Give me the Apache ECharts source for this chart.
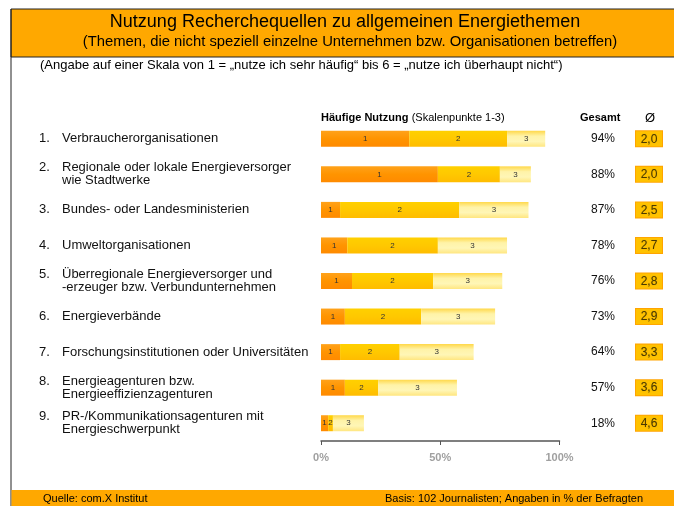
<!DOCTYPE html>
<html>
<head>
<meta charset="utf-8">
<title>Nutzung Recherchequellen</title>
<script src="https://cdn.jsdelivr.net/npm/echarts@6/dist/echarts.min.js"></script>
<style>
  html, body { margin: 0; padding: 0; background: #fff; }
  #chart { width: 674px; height: 506px; }
</style>
</head>
<body>
<div id="chart"></div>
<script>
// Quellen (Reihenfolge von oben nach unten)
const nummern = ['1.', '2.', '3.', '4.', '5.', '6.', '7.', '8.', '9.'];
const quellen = [
  'Verbraucherorganisationen',
  'Regionale oder lokale Energieversorger\nwie Stadtwerke',
  'Bundes- oder Landesministerien',
  'Umweltorganisationen',
  'Überregionale Energieversorger und\n-erzeuger bzw. Verbundunternehmen',
  'Energieverbände',
  'Forschungsinstitutionen oder Universitäten',
  'Energieagenturen bzw.\nEnergieeffizienzagenturen',
  'PR-/Kommunikationsagenturen mit\nEnergieschwerpunkt'
];
// Anteile je Skalenpunkt in %
const punkt1 = [37, 49, 8, 11, 13, 10, 8, 10, 3];
const punkt2 = [41, 26, 50, 38, 34, 32, 25, 14, 2];
const punkt3 = [16, 13, 29, 29, 29, 31, 31, 33, 13];
const gesamt = [94, 88, 87, 78, 76, 73, 64, 57, 18];
const mittelwert = ['2,0', '2,0', '2,5', '2,7', '2,8', '2,9', '3,3', '3,6', '4,6'];
const achsenTicks = [0, 50, 100];

const font = 'Liberation Sans, Arial, sans-serif';
const orange = '#FFA800';

const grad = (stops) => new echarts.graphic.LinearGradient(0, 0, 0, 1,
  stops.map((c, i) => ({ offset: i / (stops.length - 1), color: c })));

const segColors = [
  grad(['#FFA21A', '#FF9400', '#FF8A00']),
  grad(['#FFD000', '#FFC800', '#FFBC00']),
  grad(['#FFD84A', '#FFF3A8', '#FFF6B6', '#FFE680'])
];

const segLabel = {
  show: true,
  position: 'inside',
  fontSize: 8,
  fontFamily: font,
  color: '#333',
  formatter: (p) => p.seriesName
};

const makeSeries = (name, data, color) => ({
  name: name,
  type: 'bar',
  stack: 'nutzung',
  barWidth: 16,
  data: data,
  itemStyle: { color: color },
  label: segLabel,
  silent: true
});

const chart = echarts.init(document.getElementById('chart'));

const option = {
  animation: false,
  textStyle: { fontFamily: font },
  grid: { left: 321, right: 114.5, top: 121, bottom: 65 },
  xAxis: {
    type: 'value',
    min: achsenTicks[0],
    max: achsenTicks[achsenTicks.length - 1],
    interval: achsenTicks[1] - achsenTicks[0],
    splitLine: { show: false },
    axisLine: { show: true, lineStyle: { color: '#555', width: 1.5 } },
    axisTick: { show: true, length: 4, lineStyle: { color: '#555' } },
    axisLabel: {
      formatter: '{value}%',
      color: '#A0A0A0',
      fontWeight: 'bold',
      fontSize: 11,
      margin: 11
    }
  },
  yAxis: [
    {
      type: 'category',
      inverse: true,
      data: quellen,
      axisLine: { show: false },
      axisTick: { show: false },
      axisLabel: {
        align: 'left',
        margin: 282,
        fontSize: 13,
        lineHeight: 13,
        color: '#000',
        formatter: (v, i) => {
          const lines = v.split('\n');
          return lines.map((l, k) =>
            '{n|' + (k === 0 ? nummern[i] : '') + '}{t|' + l + '}').join('\n');
        },
        rich: {
          n: { width: 23, fontSize: 13, lineHeight: 13, color: '#111' },
          t: { fontSize: 13, lineHeight: 13, color: '#111' }
        }
      }
    },
    {
      type: 'category',
      inverse: true,
      position: 'right',
      data: quellen,
      axisLine: { show: false },
      axisTick: { show: false },
      axisLabel: {
        align: 'center',
        margin: 43.5,
        fontSize: 12,
        color: '#111',
        formatter: (v, i) => gesamt[i] + '%'
      }
    },
    {
      type: 'category',
      inverse: true,
      position: 'right',
      data: quellen,
      axisLine: { show: false },
      axisTick: { show: false },
      axisLabel: {
        align: 'center',
        margin: 89.5,
        formatter: (v, i) => '{b|' + mittelwert[i] + '}',
        rich: {
          b: {
            backgroundColor: '#FFC200',
            borderColor: '#FFA400',
            borderWidth: 1,
            padding: [2, 3, 1, 3],
            width: 20,
            align: 'center',
            fontSize: 12,
            color: '#4A3A00',
            textShadowColor: 'rgba(120,90,0,0.4)',
            textShadowBlur: 1
          }
        }
      }
    }
  ],
  series: [
    makeSeries('1', punkt1, segColors[0]),
    makeSeries('2', punkt2, segColors[1]),
    makeSeries('3', punkt3, segColors[2])
  ],
  graphic: [
    // Rahmen links / oben
    { type: 'rect', shape: { x: 11, y: 9, width: 670, height: 48 },
      style: { fill: orange, stroke: '#222', lineWidth: 1 }, silent: true },
    { type: 'line', shape: { x1: 11, y1: 9, x2: 11, y2: 506 },
      style: { stroke: '#222', lineWidth: 1 }, silent: true },
    { type: 'rect', shape: { x: 11.5, y: 490, width: 670, height: 20 },
      style: { fill: orange }, silent: true },
    { type: 'text', x: 345, y: 22,
      style: { text: 'Nutzung Recherchequellen zu allgemeinen Energiethemen',
        font: '18px ' + font, fill: '#000', align: 'center', verticalAlign: 'middle' } },
    { type: 'text', x: 350, y: 42,
      style: { text: '(Themen, die nicht speziell einzelne Unternehmen bzw. Organisationen betreffen)',
        font: '14.8px ' + font, fill: '#000', align: 'center', verticalAlign: 'middle' } },
    { type: 'text', x: 40, y: 65,
      style: { text: '(Angabe auf einer Skala von 1 = \u201Enutze ich sehr h\u00E4ufig\u201C bis 6 = \u201Enutze ich \u00FCberhaupt nicht\u201C)',
        font: '13px ' + font, fill: '#000', align: 'left', verticalAlign: 'middle' } },
    { type: 'text', x: 321, y: 118,
      style: { text: '{b|Häufige Nutzung} {r|(Skalenpunkte 1-3)}',
        rich: {
          b: { fontFamily: font, fontSize: 11, fontWeight: 'bold', fill: '#000' },
          r: { fontFamily: font, fontSize: 11, fill: '#000' }
        },
        verticalAlign: 'middle' } },
    { type: 'text', x: 580, y: 118,
      style: { text: 'Gesamt', font: 'bold 11px ' + font, fill: '#000', verticalAlign: 'middle' } },
    { type: 'text', x: 650, y: 118,
      style: { text: '\u00D8', font: '13px ' + font, fill: '#000', align: 'center', verticalAlign: 'middle' } },
    { type: 'text', x: 43, y: 499,
      style: { text: 'Quelle: com.X Institut', font: '11px ' + font, fill: '#000', verticalAlign: 'middle' } },
    { type: 'text', x: 643, y: 499,
      style: { text: 'Basis: 102 Journalisten; Angaben in % der Befragten',
        font: '11px ' + font, fill: '#000', align: 'right', verticalAlign: 'middle' } }
  ]
};

chart.setOption(option);
</script>
</body>
</html>
